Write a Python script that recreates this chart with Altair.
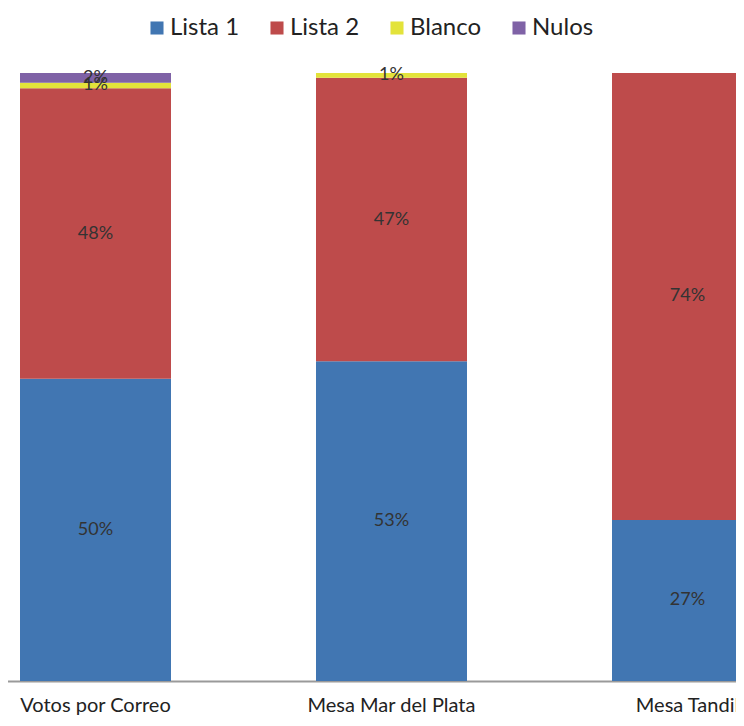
import altair as alt
import pandas as pd

categories = ["Votos por Correo", "Mesa Mar del Plata", "Mesa Tandil"]
series = ["Lista 1", "Lista 2", "Blanco", "Nulos"]
lista1 = [49.7, 52.6, 26.5]
lista2 = [47.8, 46.6, 73.5]
blanco = [0.9, 0.8, 0.0]
nulos = [1.6, 0.0, 0.0]
colors = ["#4176B2", "#BE4B4B", "#E3E33A", "#7F62A6"]

rows = []
for i, c in enumerate(categories):
    for j, (s, vals) in enumerate(zip(series, [lista1, lista2, blanco, nulos])):
        rows.append({"cat": c, "serie": s, "idx": j, "value": vals[i]})
df = pd.DataFrame(rows)

FONT = "Lato"

base = alt.Chart(df).transform_stack(
    stack="value", groupby=["cat"], as_=["y0", "y1"], offset="normalize",
    sort=[alt.SortField("idx", order="ascending")]
)

xenc = alt.X("cat:N", sort=categories, title=None,
             scale=alt.Scale(range=[-60.5, 827.5], paddingInner=0.49, paddingOuter=0.245),
             axis=alt.Axis(labelAngle=0, ticks=False, domainColor="#9a9a9a", domainWidth=2,
                           labelFontSize=20, labelColor="#222222", labelPadding=14,
                           labelFont=FONT, grid=False))

bars = base.mark_bar(size=151).encode(
    x=xenc,
    y=alt.Y("y0:Q", scale=alt.Scale(domain=[0, 1]), axis=None),
    y2="y1:Q",
    color=alt.Color("serie:N", sort=series,
                    scale=alt.Scale(domain=series, range=colors),
                    legend=alt.Legend(title=None, orient="none", direction="horizontal",
                                      legendX=137, legendY=-57, symbolType="square",
                                      symbolSize=170, labelFontSize=24, labelFont=FONT,
                                      labelColor="#222222", columnPadding=25,
                                      symbolStrokeWidth=0, labelOffset=1)),
)

labels = base.transform_filter("datum.value > 0").transform_calculate(
    mid="(datum.y0 + datum.y1) / 2",
    lab="format(round(datum.value), 'd') + '%'"
).mark_text(fontSize=18, font=FONT, color="#333333", baseline="middle").encode(
    x=alt.X("cat:N", sort=categories),
    y=alt.Y("mid:Q"),
    text="lab:N",
)

chart = (bars + labels).properties(
    width=728, height=608,
    background="white",
    autosize=alt.AutoSizeParams(type="none"),
    padding={"left": 0, "top": 65, "right": 0, "bottom": 37},
).configure_view(strokeWidth=0, stroke=None)

chart.save("out.html", embed_options={"renderer": "svg", "actions": False})
